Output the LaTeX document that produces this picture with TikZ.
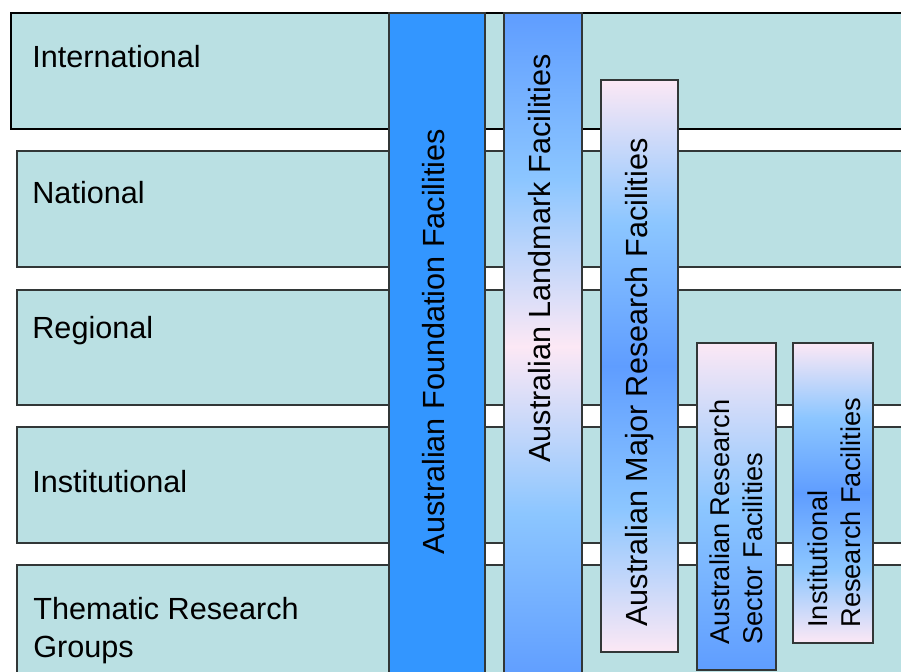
\documentclass[tikz,border=0pt]{standalone}
\usepackage{fontspec}
\setmainfont{Liberation Sans}
\usepackage{xcolor}

\definecolor{rowfill}{RGB}{186,224,227}
\definecolor{rowline}{RGB}{50,55,55}
\definecolor{foundblue}{RGB}{51,150,255}
\definecolor{facblue}{RGB}{95,157,255}
\definecolor{faclight}{RGB}{140,198,255}
\definecolor{facpink}{RGB}{252,232,245}

\newcommand{\levelfont}{\fontsize{15.3}{19}\selectfont}
\newcommand{\facfont}{\fontsize{13.6}{16.5}\selectfont}

% shadings for the facility bars (25bp = bottom, 75bp = top)
\pgfdeclareverticalshading{landmarkshade}{100bp}{color(0bp)=(facblue); color(25bp)=(facblue);
  color(37.5bp)=(faclight); color(50bp)=(facpink); color(62.5bp)=(faclight);
  color(75bp)=(facblue); color(100bp)=(facblue)}
\pgfdeclareverticalshading{majorshade}{100bp}{color(0bp)=(facpink); color(25bp)=(facpink);
  color(37.5bp)=(faclight); color(50bp)=(facblue); color(62.5bp)=(faclight);
  color(75bp)=(facpink); color(100bp)=(facpink)}
\pgfdeclareverticalshading{sectorshade}{100bp}{color(0bp)=(facblue); color(25bp)=(facblue);
  color(50bp)=(faclight); color(75bp)=(facpink); color(100bp)=(facpink)}

\begin{document}
\begin{tikzpicture}[
    x=0.5pt, y=-0.5pt,
    row/.style={draw=rowline, fill=rowfill, line width=0.75pt},
    bar/.style={draw=rowline, line width=0.75pt},
    lvl/.style={anchor=base west, inner sep=0pt, font=\levelfont},
    fac/.style={rotate=90, anchor=base, inner sep=0pt, font=\levelfont},
    fac2/.style={rotate=90, anchor=north west, inner sep=0pt, align=left, font=\facfont}
]
    \useasboundingbox (0,0) rectangle (901,672);
    \clip (0,0) rectangle (901,672);

    % Levels
    \draw[row, draw=black] (11,13) rectangle (920,129);
    \draw[row] (17,151) rectangle (920,267);
    \draw[row] (17,290) rectangle (920,405);
    \draw[row] (17,427) rectangle (920,543);
    \draw[row] (17,565) rectangle (920,700);

    \node[lvl] (intl) at (32,68) {International};
    \node[lvl] (natl) at (32,204) {National};
    \node[lvl] (regl) at (32,339) {Regional};
    \node[lvl] (inst) at (32,493) {Institutional};
    \node[lvl, anchor=north west, align=left] (them) at (33,596.5) {Thematic Research\\Groups};

    % Facility bars
    \draw[bar, fill=foundblue] (389,13) rectangle (485,700);
    \path[bar, shade, shading=landmarkshade] (504,13) rectangle (582,680);
    \path[bar, shade, shading=majorshade] (601,80) rectangle (678,652);
    \path[bar, shade, shading=sectorshade] (697,343) rectangle (776,670);
    \path[bar, shade, shading=majorshade] (793,343) rectangle (873,643);

    \node[fac] (found) at (444,341.5) {Australian Foundation Facilities};
    \node[fac] (landmark) at (550,258.5) {Australian Landmark Facilities};
    \node[fac] (major) at (647,382.5) {Australian Major Research Facilities};
    \node[fac2] (sector) at (709,645) {Australian Research\\Sector Facilities};
    \node[fac2] (instfac) at (807,628) {Institutional\\Research Facilities};

\end{tikzpicture}
\end{document}
